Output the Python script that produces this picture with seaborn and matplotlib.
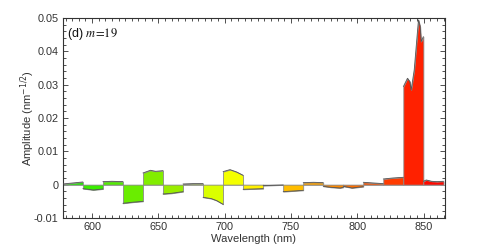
import numpy as np
import pandas as pd
import matplotlib
matplotlib.use("Agg")
import matplotlib.pyplot as plt
import matplotlib.colors as mcolors
from matplotlib.ticker import MultipleLocator, FixedLocator, FixedFormatter
import seaborn as sns

# ---------------- data ----------------
block_edges = [578.0, 593.1, 608.2, 623.3, 638.4, 653.5, 668.6, 683.7, 698.8, 713.9,
               729.0, 744.1, 759.2, 774.3, 789.4, 804.5, 819.6, 834.7, 849.8, 865.0]

block = [0, 0,
         1, 1, 1,
         2, 2, 2,
         3, 3, 3,
         4, 4, 4, 4,
         5, 5, 5,
         6, 6, 6,
         7, 7, 7, 7,
         8, 8, 8, 8,
         9, 9,
         10, 10,
         11, 11, 11,
         12, 12, 12,
         13, 13, 13, 13,
         14, 14, 14,
         15, 15, 15,
         16, 16, 16,
         17, 17, 17, 17, 17, 17, 17, 17, 17, 17,
         18, 18, 18, 18, 18]

wavelength = [578.0, 593.1,
              593.1, 601.0, 608.2,
              608.2, 615.0, 623.3,
              623.3, 630.0, 638.4,
              638.4, 644.0, 648.0, 653.5,
              653.5, 660.0, 668.6,
              668.6, 676.0, 683.7,
              683.7, 690.0, 694.0, 698.8,
              698.8, 704.0, 709.0, 713.9,
              713.9, 729.0,
              729.0, 744.1,
              744.1, 752.0, 759.2,
              759.2, 767.0, 774.3,
              774.3, 780.0, 787.0, 789.4,
              789.4, 796.0, 804.5,
              804.5, 812.0, 819.6,
              819.6, 827.0, 834.7,
              834.7, 837.8, 839.6, 840.6, 842.9, 844.6, 846.1, 847.4, 848.1, 849.8,
              849.8, 852.0, 856.0, 860.0, 865.0]

amplitude = [0.0002, 0.0008,
             -0.0012, -0.0016, -0.0013,
             0.0009, 0.0010, 0.0009,
             -0.0056, -0.0053, -0.0050,
             0.0035, 0.0043, 0.0040, 0.0042,
             -0.0028, -0.0026, -0.0021,
             0.0002, 0.0003, 0.0003,
             -0.0038, -0.0042, -0.0048, -0.0059,
             0.0039, 0.0045, 0.0038, 0.0028,
             -0.0014, -0.0012,
             -0.0003, -0.0001,
             -0.0021, -0.0019, -0.0017,
             0.0006, 0.0007, 0.0006,
             -0.0005, -0.0008, -0.0010, -0.0008,
             -0.0005, -0.0010, -0.0006,
             0.0007, 0.0005, 0.0003,
             0.0017, 0.0020, 0.0022,
             0.0294, 0.0319, 0.0309, 0.0284, 0.0344, 0.0424, 0.0494, 0.0474, 0.0429, 0.0444,
             0.0010, 0.0014, 0.0010, 0.0009, 0.0010]

x_ticks = [600, 650, 700, 750, 800, 850]
y_ticks = [-0.01, 0.0, 0.01, 0.02, 0.03, 0.04, 0.05]
y_tick_labels = ["-0.01", "0", "0.01", "0.02", "0.03", "0.04", "0.05"]

df = pd.DataFrame({"wavelength": wavelength, "amplitude": amplitude, "block": block})

# ---------------- style ----------------
sns.set_theme(style="ticks")
plt.rcParams["font.family"] = ["Liberation Sans", "DejaVu Sans"]
plt.rcParams["xtick.direction"] = "in"
plt.rcParams["ytick.direction"] = "in"

fig = plt.figure(figsize=(4.91, 2.46), dpi=100)
ax = fig.add_axes([0.128, 0.114, 0.778, 0.813])


def block_color(lam):
    hue = 0.31 - (lam - 585.0) * 0.00112
    hue = hue % 1.0
    val = 0.93 if hue > 0.22 else 1.0
    return mcolors.hsv_to_rgb((hue, 1.0, val))


for b, g in df.groupby("block"):
    center = 0.5 * (block_edges[b] + block_edges[b + 1])
    ax.fill_between(g["wavelength"], 0, g["amplitude"], facecolor=block_color(center),
                    edgecolor="#8a8a8a", linewidth=0.6, zorder=2)

sns.lineplot(data=df, x="wavelength", y="amplitude", units="block", estimator=None,
             color="#555555", linewidth=0.6, ax=ax, zorder=3, legend=False)

ax.axhline(0, color="#aaaaaa", linewidth=0.6, zorder=1)

ax.set_xlim(578, 866)
ax.set_ylim(-0.01, 0.05)
ax.xaxis.set_major_locator(FixedLocator(x_ticks))
ax.xaxis.set_minor_locator(MultipleLocator(5))
ax.yaxis.set_major_locator(FixedLocator(y_ticks))
ax.yaxis.set_major_formatter(FixedFormatter(y_tick_labels))
ax.yaxis.set_minor_locator(MultipleLocator(0.002))

ax.tick_params(which="both", direction="in", top=True, right=True, colors="#333333",
               labelcolor="#333333", labelsize=7.8, width=0.6)
ax.tick_params(which="major", length=3.5, pad=3)
ax.tick_params(which="minor", length=2)
for s in ax.spines.values():
    s.set_linewidth(0.8)
    s.set_color("#333333")

ax.set_xlabel("Wavelength (nm)", fontsize=8, color="#333333", labelpad=1)
ax.set_ylabel("Amplitude (nm$^{-1/2}$)", fontsize=8, color="#333333",
              math_fontfamily="dejavusans")
ax.yaxis.set_label_coords(-0.068, 0.5)

ax.text(0.012, 0.96, "(d) $m\\!=\\!19$", transform=ax.transAxes, ha="left", va="top",
        fontsize=9, color="#111111", math_fontfamily="stix")

fig.savefig("out.png", dpi=100)
